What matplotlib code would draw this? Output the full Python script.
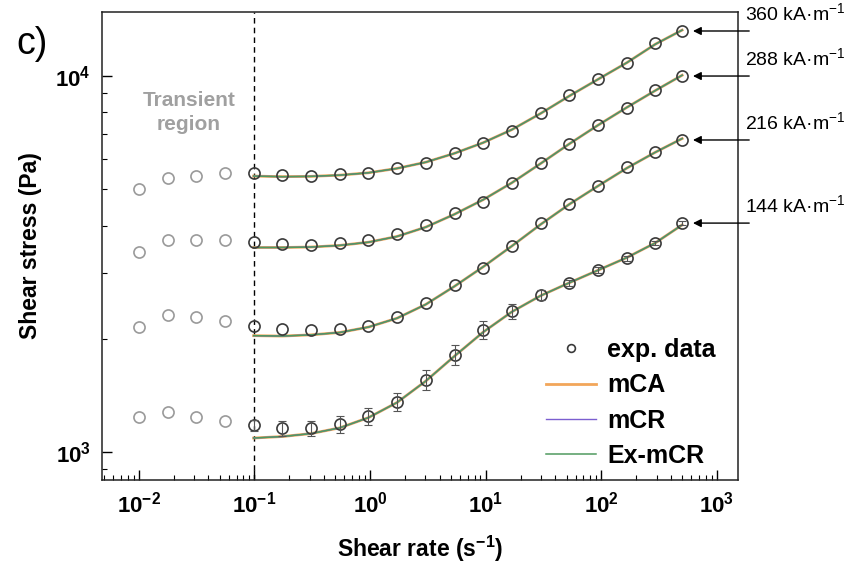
import matplotlib
matplotlib.use("Agg")
import matplotlib.pyplot as plt
import numpy as np
from matplotlib.ticker import LogLocator, NullFormatter

plt.rcParams['font.family'] = ['Liberation Sans', 'DejaVu Sans']
plt.rcParams['mathtext.fontset'] = 'custom'
plt.rcParams['mathtext.rm'] = 'Liberation Sans'
plt.rcParams['mathtext.bf'] = 'Liberation Sans:bold'
plt.rcParams['mathtext.it'] = 'Liberation Sans:italic'

# ==========================================
# data
# ==========================================
fields = ["360", "288", "216", "144"]  # kA/m

rate_transient = [0.01, 0.0177, 0.0314, 0.0555]
rate = [0.0983, 0.174, 0.308, 0.546, 0.967, 1.71, 3.03, 5.37,
        9.51, 16.8, 29.8, 52.8, 93.5, 166, 293, 500]

stress_transient = {
    "360": [5005, 5355, 5420, 5520],
    "288": [3404, 3664, 3664, 3664],
    "216": [2150, 2314, 2286, 2230],
    "144": [1239, 1277, 1239, 1209],
}

stress = {
    "360": [5520, 5455, 5420, 5490, 5520, 5692, 5870, 6240,
            6635, 7140, 7973, 8900, 9820, 10830, 12240, 13175],
    "288": [3618, 3573, 3549, 3597, 3664, 3800, 4020, 4322,
            4624, 5193, 5870, 6593, 7408, 8221, 9180, 10000],
    "216": [2163, 2124, 2111, 2124, 2163, 2286, 2491, 2781,
            3086, 3531, 4064, 4566, 5098, 5728, 6280, 6760],
    "144": [1180, 1158, 1158, 1187, 1247, 1358, 1555, 1811,
            2111, 2371, 2616, 2815, 3048, 3281, 3597, 4064],
}

# error bars (Pa), only visible on the lowest field
stress_err_144 = [40, 55, 55, 60, 65, 75, 95, 110,
                  115, 105, 80, 55, 60, 50, 50, 40]

# model curves (the three models practically overlap)
fit = {
    "360": [5420, 5400, 5410, 5450, 5530, 5680, 5900, 6230,
            6650, 7200, 7950, 8850, 9800, 10850, 12150, 13250],
    "288": [3500, 3500, 3510, 3545, 3615, 3745, 3965, 4290,
            4690, 5200, 5850, 6600, 7400, 8250, 9150, 10050],
    "216": [2040, 2035, 2050, 2080, 2150, 2270, 2470, 2760,
            3110, 3530, 4030, 4560, 5100, 5690, 6270, 6820],
    "144": [1090, 1100, 1120, 1160, 1235, 1355, 1545, 1800,
            2085, 2360, 2605, 2820, 3045, 3290, 3600, 4020],
}

models = ["mCA", "mCR", "Ex-mCR"]
model_colors = ["#f2a65a", "#7b5fd0", "#4f9a5f"]
model_widths = [2.0, 1.0, 1.1]

xticks = [1e-2, 1e-1, 1e0, 1e1, 1e2, 1e3]
xticklabels = [r"$\mathbf{10^{-2}}$", r"$\mathbf{10^{-1}}$", r"$\mathbf{10^{0}}$",
               r"$\mathbf{10^{1}}$", r"$\mathbf{10^{2}}$", r"$\mathbf{10^{3}}$"]
yticks = [1e3, 1e4]
yticklabels = [r"$\mathbf{10^{3}}$", r"$\mathbf{10^{4}}$"]

# ==========================================
# plot
# ==========================================
fig = plt.figure(figsize=(8.51, 5.78), dpi=100)
ax = fig.add_axes([102 / 851, 1 - 480 / 578, 636 / 851, 468 / 578])

ax.set_xscale("log")
ax.set_yscale("log")
ax.set_xlim(0.0048, 1520)
ax.set_ylim(843, 14800)

for k in fields:
    for m, c, lw in zip(models, model_colors, model_widths):
        ax.plot(rate, fit[k], color=c, lw=lw, zorder=2,
                label=m if k == fields[0] else None)

    ax.plot(rate_transient, stress_transient[k], "o", ms=8, mfc="none",
            mec="#9a9a9a", mew=1.2, zorder=3)
    ax.plot(rate, stress[k], "o", ms=8, mfc="none", mec="#3a3a3a", mew=1.2,
            zorder=3, label="exp. data" if k == fields[0] else None)

ax.errorbar(rate, stress["144"], yerr=stress_err_144, fmt="none",
            ecolor="#555555", elinewidth=0.8, capsize=3, capthick=0.8, zorder=3)

ax.axvline(0.1, color="black", ls=(0, (4, 3)), lw=1.0, zorder=1)

ax.text(0.027, 8000, "Transient\nregion", color="#a0a0a0", fontsize=15,
        fontweight="bold", ha="center", va="center", linespacing=1.3)

# field labels with arrows
for k in fields:
    y_end = stress[k][-1]
    ax.annotate("", xy=(620, y_end), xytext=(1900, y_end),
                arrowprops=dict(arrowstyle="-|>", color="black", lw=1.0,
                                mutation_scale=12, shrinkA=0, shrinkB=0),
                annotation_clip=False)
    ax.annotate(k + r" kA·m$^{-1}$", xy=(1900, y_end), xytext=(-3, 5),
                textcoords="offset points", ha="left", va="bottom",
                fontsize=14, annotation_clip=False)

ax.set_xticks(xticks)
ax.set_xticklabels(xticklabels)
ax.set_yticks(yticks)
ax.set_yticklabels(yticklabels)
ax.xaxis.set_minor_locator(LogLocator(base=10, subs=np.arange(2, 10)))
ax.yaxis.set_minor_locator(LogLocator(base=10, subs=np.arange(2, 10)))
ax.xaxis.set_minor_formatter(NullFormatter())
ax.yaxis.set_minor_formatter(NullFormatter())
ax.tick_params(which="major", direction="in", length=7, width=1.0,
               labelsize=16, top=False, right=False, pad=8)
ax.tick_params(which="minor", direction="in", length=3.5, width=0.8,
               top=False, right=False)
for s in ax.spines.values():
    s.set_linewidth(1.1)
    s.set_color("#222222")

ax.set_xlabel(r"Shear rate (s$^{\mathbf{-1}}$)", fontsize=16.5, fontweight="bold",
              labelpad=12)
ax.set_ylabel("Shear stress (Pa)", fontsize=16.5, fontweight="bold", labelpad=10)

handles, labels = ax.get_legend_handles_labels()
order = [labels.index(n) for n in ["exp. data"] + models]
leg = ax.legend([handles[i] for i in order], [labels[i] for i in order],
                loc="lower right", bbox_to_anchor=(1.0, -0.022), frameon=False,
                fontsize=18, handlelength=2.0, labelspacing=0.45,
                handletextpad=0.45, markerscale=0.7)
for t in leg.get_texts():
    t.set_fontweight("bold")

fig.text(16 / 851, 1 - 44 / 578, "c)", fontsize=27, va="center", ha="left")

plt.savefig("out.png", dpi=100)
